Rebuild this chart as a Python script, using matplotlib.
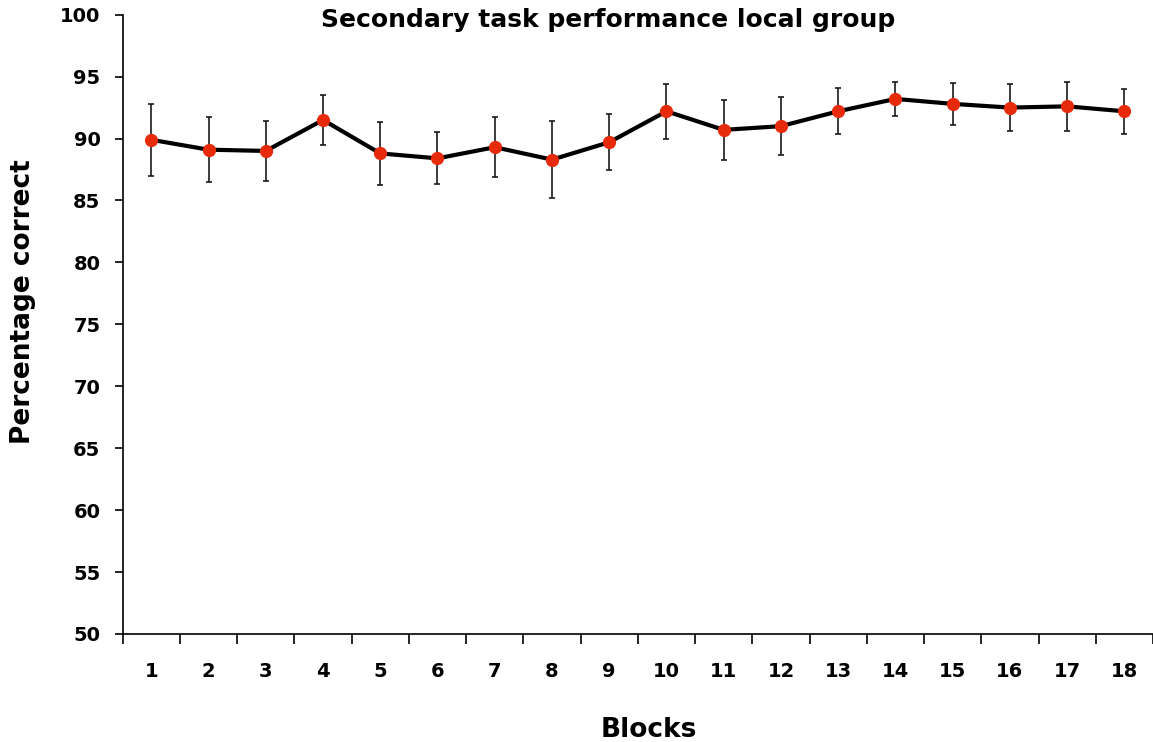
import numpy as np
import matplotlib
matplotlib.use("Agg")
import matplotlib.pyplot as plt

plt.rcParams['font.family'] = ['DejaVu Sans']

# mean percentage correct per block, with error bar half-widths
blocks = list(range(1, 19))
means = [89.9, 89.1, 89.0, 91.5, 88.8, 88.4, 89.3, 88.3, 89.7,
         92.2, 90.7, 91.0, 92.2, 93.2, 92.8, 92.5, 92.6, 92.2]
errors = [2.9, 2.6, 2.4, 2.0, 2.55, 2.1, 2.4, 3.1, 2.25,
          2.2, 2.4, 2.35, 1.85, 1.4, 1.7, 1.9, 2.0, 1.8]
yticks = list(range(50, 101, 5))

fig = plt.figure(figsize=(11.53, 7.42), dpi=100)
ax = fig.add_axes([0.1064, 0.1456, 0.8936, 0.8346])

ax.errorbar(blocks, means, yerr=errors, fmt='none', ecolor='#1a1a1a',
            elinewidth=1.2, capsize=2.3, capthick=1.2, zorder=2)
ax.plot(blocks, means, color='black', linewidth=3, zorder=3)
ax.plot(blocks, means, 'o', color='#e62a0a', markersize=8.5, zorder=4)

ax.set_xlim(0.5, 18.5)
ax.set_ylim(50, 100)
ax.set_yticks(yticks)
ax.set_xticks(blocks)
ax.set_xticks(np.arange(0.5, 19, 1), minor=True)
ax.tick_params(axis='x', which='major', length=0, pad=20, labelsize=14)
ax.tick_params(axis='x', which='minor', length=7, width=1.2, direction='out')
ax.tick_params(axis='y', length=6, width=1.2, pad=10, labelsize=14)
for lab in ax.get_xticklabels() + ax.get_yticklabels():
    lab.set_fontweight('bold')

for side in ['top', 'right']:
    ax.spines[side].set_visible(False)
for side in ['left', 'bottom']:
    ax.spines[side].set_linewidth(1.2)

fig.text(0.527, 0.973, "Secondary task performance local group", fontsize=18,
         fontweight='bold', ha='center', va='center')
fig.text(0.563, 0.016, "Blocks", fontsize=19, fontweight='bold',
         ha='center', va='center')
fig.text(0.020, 0.594, "Percentage correct", fontsize=19, fontweight='bold',
         rotation=90, ha='center', va='center')

fig.savefig("out.png", dpi=100)
